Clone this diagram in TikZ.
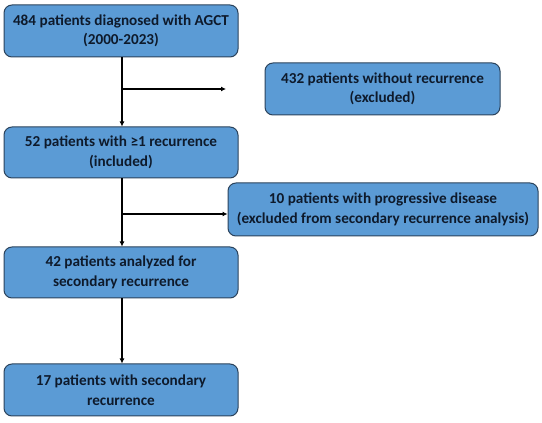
\documentclass[tikz,border=0pt]{standalone}
\usepackage{fontspec}
\setmainfont{Carlito}[BoldFont={Carlito Bold}]
\usetikzlibrary{arrows.meta}
\definecolor{boxfill}{HTML}{5B9BD5}
\definecolor{boxline}{HTML}{2B435C}
\definecolor{boxtext}{HTML}{0E1A2B}
\tikzset{
  flowbox/.style={draw=boxline, line width=1pt, fill=boxfill, rounded corners=8pt,
    text=boxtext, font=\bfseries\fontsize{15.2}{19.5}\selectfont, align=center,
    inner sep=0pt},
  flowarrow/.style={draw=black, line width=1.4pt, -{Latex[length=5pt,width=5pt]}}
}
\begin{document}
\begin{tikzpicture}[x=1pt,y=1pt]
\useasboundingbox[fill=white] (0,0) rectangle (542,423);
\node[flowbox, minimum width=234pt, minimum height=52pt] (b1) at (121,392) {484 patients diagnosed with AGCT\\(2000-2023)};
\node[flowbox, minimum width=235pt, minimum height=52pt] (b2) at (382.5,334) {432 patients without recurrence\\(excluded)};
\node[flowbox, minimum width=234pt, minimum height=51pt] (b3) at (121,270.5) {52 patients with \symbol{"2265}1 recurrence\\(included)};
\node[flowbox, minimum width=310pt, minimum height=53pt] (b4) at (383,213.5) {10 patients with progressive disease\\(excluded from secondary recurrence analysis)};
\node[flowbox, minimum width=234pt, minimum height=51pt] (b5) at (121,150.5) {42 patients analyzed for\\secondary recurrence};
\node[flowbox, minimum width=234pt, minimum height=52pt] (b6) at (121,33) {17 patients with secondary\\recurrence};
\coordinate (j1) at (122,334);
\coordinate (e1) at (226,334);
\coordinate (j2) at (122,209);
\draw[flowarrow] (b1.south -| j1) -- (b3.north -| j1);
\draw[flowarrow] (j1) -- (e1);
\draw[flowarrow] (b3.south -| j2) -- (b5.north -| j2);
\draw[flowarrow] (j2) -- (j2 -| b4.west);
\draw[flowarrow] (b5.south -| j2) -- (b6.north -| j2);
\end{tikzpicture}
\end{document}
